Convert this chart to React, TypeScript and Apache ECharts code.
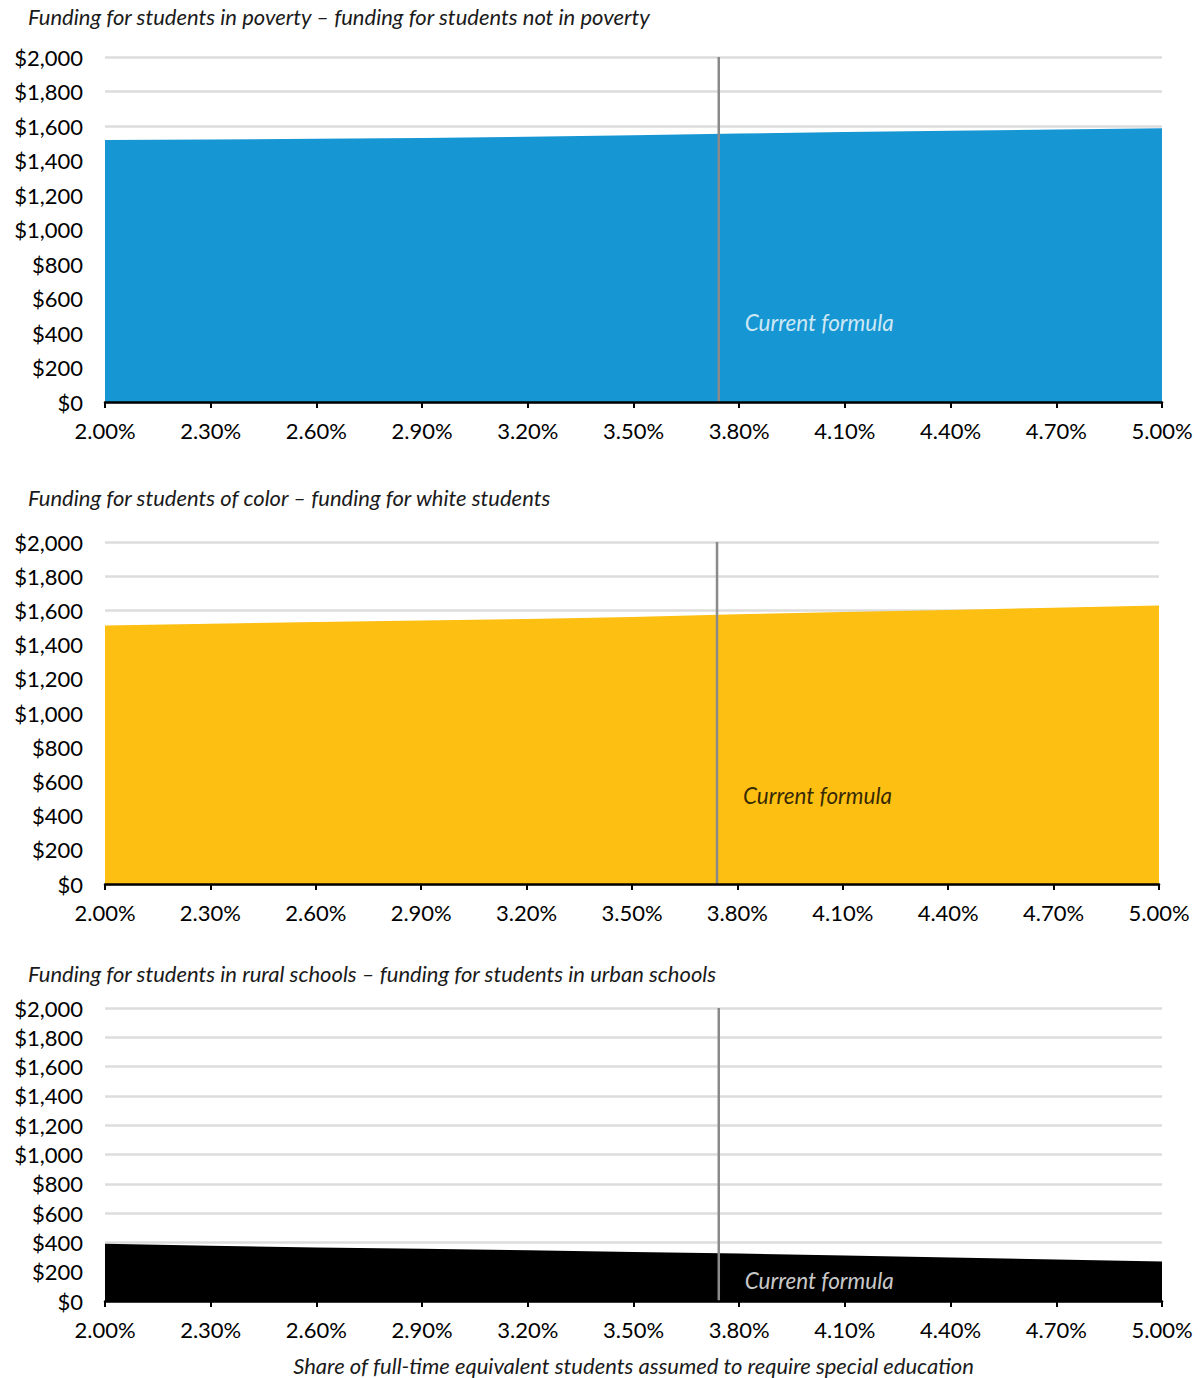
import React, { useEffect, useRef } from "react";
import * as echarts from "echarts";

const categories = ["2.00%", "2.30%", "2.60%", "2.90%", "3.20%", "3.50%", "3.80%", "4.10%", "4.40%", "4.70%", "5.00%"];
const povertyGap = [1519, 1522, 1526, 1531, 1537, 1546, 1556, 1565, 1573, 1580, 1587];
const colorGap = [1512, 1522, 1532, 1541, 1550, 1561, 1577, 1590, 1603, 1615, 1628];
const ruralGap = [391, 377, 366, 356, 346, 335, 324, 311, 297, 283, 270];
const currentFormula = 3.742;
const titles = [
  "Funding for students in poverty – funding for students not in poverty",
  "Funding for students of color – funding for white students",
  "Funding for students in rural schools – funding for students in urban schools",
];
const xAxisTitle = "Share of full-time equivalent students assumed to require special education";
const labelText = "Current formula";

const FONT = "Lato";

export default function App() {
  const ref = useRef<HTMLDivElement>(null);
  useEffect(() => {
    if (!ref.current) return;
    const chart = echarts.init(ref.current, null, { renderer: "svg" });

    const panels = [
      { data: povertyGap, color: "#1696d2", labelColor: "#ffffff", labelY: 458, grid: { left: 105, right: 38, top: 57, height: 345 }, titleTop: 5 },
      { data: colorGap, color: "#fdbf11", labelColor: "#000000", labelY: 515, grid: { left: 105, right: 41, top: 542, height: 342 }, titleTop: 486 },
      { data: ruralGap, color: "#000000", labelColor: "#ffffff", labelY: 143, grid: { left: 105, right: 38, top: 1008, height: 293 }, titleTop: 962 },
    ];

    const grid: any[] = [];
    const xAxis: any[] = [];
    const yAxis: any[] = [];
    const series: any[] = [];
    const title: any[] = [];

    panels.forEach((p, i) => {
      grid.push({ ...p.grid, containLabel: false });
      title.push({
        text: titles[i],
        left: 28,
        top: p.titleTop,
        padding: 0,
        textStyle: { fontFamily: FONT, fontStyle: "italic", fontWeight: "normal", fontSize: 22, color: "#1a1a1a" },
      });
      xAxis.push({
        type: "category",
        gridIndex: i,
        data: categories,
        boundaryGap: false,
        axisLine: { show: true, lineStyle: { color: "#000", width: 2.5 } },
        axisTick: { show: true, alignWithLabel: true, length: 6, lineStyle: { color: "#000", width: 2 } },
        axisLabel: { fontFamily: FONT, fontSize: 22, color: "#000", margin: 17, interval: 0 },
        splitLine: { show: false },
        z: 5,
        ...(i === 2
          ? {
              name: xAxisTitle,
              nameLocation: "middle",
              nameGap: 53,
              nameTextStyle: { fontFamily: FONT, fontStyle: "italic", fontSize: 22, color: "#1a1a1a" },
            }
          : {}),
      });
      xAxis.push({
        type: "value",
        gridIndex: i,
        min: 2,
        max: 5,
        show: false,
      });
      yAxis.push({
        type: "value",
        gridIndex: i,
        min: 0,
        max: 2000,
        interval: 200,
        axisLine: { show: false },
        axisTick: { show: false },
        axisLabel: {
          fontFamily: FONT,
          fontSize: 22,
          color: "#000",
          margin: 22,
          formatter: (v: number) => "$" + v.toLocaleString("en-US"),
        },
        splitLine: { show: true, lineStyle: { color: "#dcdcdc", width: 2.5 } },
      });
      series.push({
        type: "line",
        xAxisIndex: i * 2,
        yAxisIndex: i,
        data: p.data,
        symbol: "none",
        lineStyle: { width: 0 },
        areaStyle: { color: p.color, opacity: 1 },
        z: 2,
      });
      series.push({
        type: "line",
        xAxisIndex: i * 2 + 1,
        yAxisIndex: i,
        data: [
          [currentFormula, 0],
          [currentFormula, 2000],
        ],
        symbol: "none",
        lineStyle: { color: "#8a8a8a", width: 2.5 },
        z: 3,
      });
      series.push({
        type: "scatter",
        xAxisIndex: i * 2 + 1,
        yAxisIndex: i,
        data: [[currentFormula, p.labelY]],
        symbolSize: 0,
        label: {
          show: true,
          position: "right",
          distance: 26,
          formatter: labelText,
          fontFamily: FONT,
          fontStyle: "italic",
          fontSize: 22.5,
          color: p.labelColor,
        },
        z: 4,
      });
    });

    chart.setOption({
      animation: false,
      backgroundColor: "#ffffff",
      textStyle: { fontFamily: FONT },
      title,
      grid,
      xAxis,
      yAxis,
      series,
    });
    return () => chart.dispose();
  }, []);

  return (
    <div
      ref={ref}
      style={{ position: "absolute", left: 0, top: 0, width: 1200, height: 1378 }}
    />
  );
}
